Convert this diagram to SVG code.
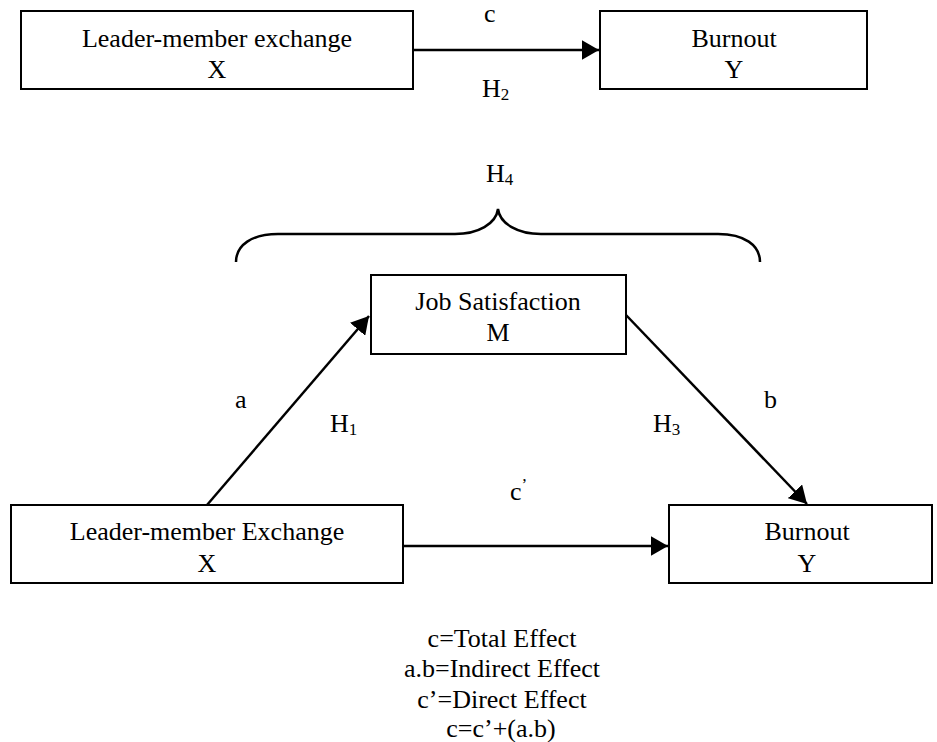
<svg xmlns="http://www.w3.org/2000/svg" width="937" height="742" viewBox="0 0 937 742">
<style>
text{font-family:"Liberation Serif","Times New Roman",serif;font-size:26px;fill:#000}
.c{text-anchor:middle}
.box{fill:#fff;stroke:#000;stroke-width:2}
.ln{stroke:#000;stroke-width:2.5;fill:none}
.sub{font-size:17px}
</style>
<defs>
<marker id="ah" markerWidth="8" markerHeight="8" refX="7" refY="4" orient="auto" markerUnits="strokeWidth">
<path d="M0,0 L7,4 L0,8 Z" fill="#000"/>
</marker>
</defs>
<rect width="937" height="742" fill="#fff"/>
<g id="top-x"><rect class="box" x="21" y="11" width="392" height="78"/><text class="c" x="217" y="47">Leader-member exchange</text><text class="c" x="217" y="78">X</text></g>
<g id="top-y"><rect class="box" x="600" y="11" width="267" height="78"/><text class="c" x="734" y="47">Burnout</text><text class="c" x="734" y="78">Y</text></g>
<g id="mid-m"><rect class="box" x="371" y="275" width="255" height="79"/><text class="c" x="498" y="310">Job Satisfaction</text><text class="c" x="498" y="341">M</text></g>
<g id="bot-x"><rect class="box" x="11" y="505" width="392" height="78"/><text class="c" x="207" y="540">Leader-member Exchange</text><text class="c" x="207" y="572">X</text></g>
<g id="bot-y"><rect class="box" x="669" y="505" width="263" height="78"/><text class="c" x="807" y="540">Burnout</text><text class="c" x="807" y="572">Y</text></g>
<g id="connectors">
<line class="ln" x1="413" y1="50" x2="599" y2="50" stroke-width="3" marker-end="url(#ah)"/>
<line class="ln" x1="207" y1="505" x2="369" y2="316" marker-end="url(#ah)"/>
<line class="ln" x1="626" y1="315" x2="807" y2="504" marker-end="url(#ah)"/>
<line class="ln" x1="403" y1="546" x2="668" y2="546" stroke-width="3" marker-end="url(#ah)"/>
<path class="ln" stroke-width="2" d="M236,262 C236,245 252,234 278,234 L455,234 C478,234 496,224 498,209 C500,224 518,234 541,234 L718,234 C744,234 760,245 760,262"/>
</g>
<g id="labels">
<text x="484" y="22">c</text>
<text x="482" y="97">H<tspan class="sub" dy="3">2</tspan></text>
<text x="486" y="182">H<tspan class="sub" dy="3">4</tspan></text>
<text x="235" y="408">a</text>
<text x="330" y="432">H<tspan class="sub" dy="3">1</tspan></text>
<text x="653" y="432">H<tspan class="sub" dy="3">3</tspan></text>
<text x="764" y="408">b</text>
<text x="510" y="500">c<tspan class="sub" dy="-10">’</tspan></text>
</g>
<g id="legend">
<text class="c" x="502" y="647">c=Total Effect</text>
<text class="c" x="502" y="677">a.b=Indirect Effect</text>
<text class="c" x="502" y="708">c’=Direct Effect</text>
<text class="c" x="501" y="737">c=c’+(a.b)</text>
</g>
</svg>
